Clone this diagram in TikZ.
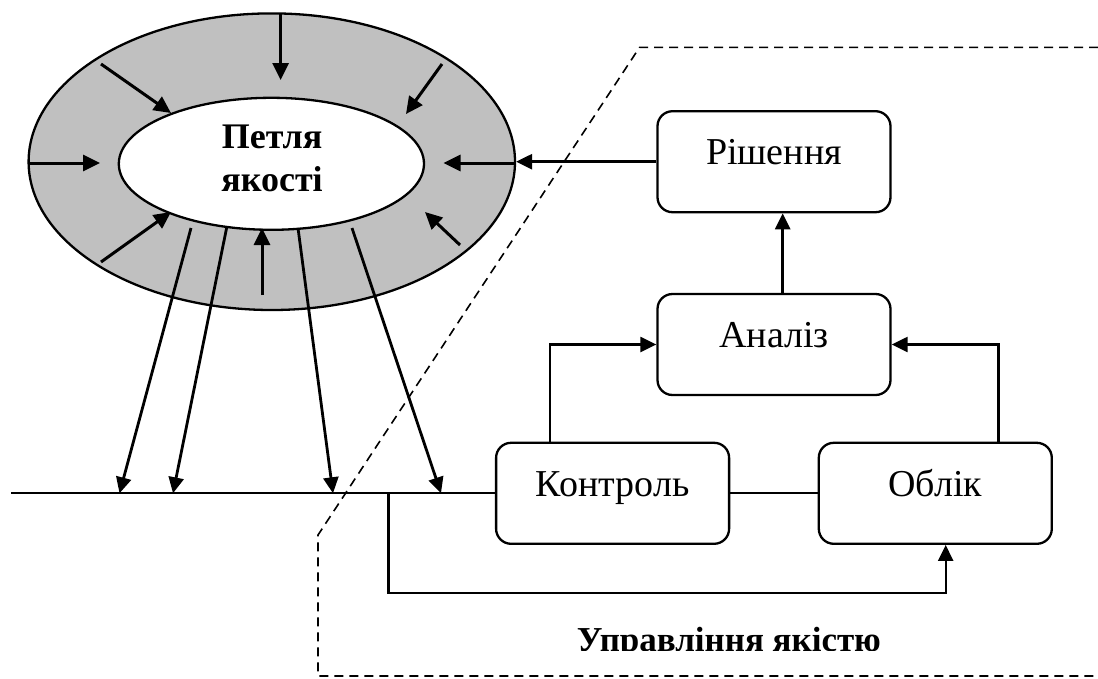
\documentclass[tikz,border=0pt]{standalone}
\usepackage{fontspec}
\setmainfont{Liberation Serif}
\usetikzlibrary{arrows.meta,shapes.geometric}
\definecolor{ringgrey}{HTML}{C0C0C0}
\begin{document}
\begin{tikzpicture}[x=1pt,y=-1pt,
  box/.style={draw,line width=2.3pt,rounded corners=15pt,minimum width=233pt,
    minimum height=101pt,inner sep=0pt,font=\fontsize{38pt}{44pt}\selectfont,
    text height=0.75em,text depth=0.17em},
  arr/.style={line width=2.8pt,-{Triangle[length=16pt,width=15pt]}},
  ringarr/.style={line width=3pt,-{Triangle[length=17pt,width=16pt]}},
  link/.style={line width=2.3pt},
  frame/.style={line width=1.6pt,dash pattern=on 9pt off 6pt},
  ]
\useasboundingbox (0,0) rectangle (1098,678);

% the quality loop: grey ring around a white core
\node[ellipse,draw,line width=2.3pt,fill=ringgrey,minimum width=486.4pt,
  minimum height=296.6pt,inner sep=0pt] (ring) at (271.8,161.7) {};
\node[ellipse,draw,line width=2.3pt,fill=white,minimum width=305.2pt,
  minimum height=132pt,inner sep=0pt] (loop) at (271.4,163.8) {};
\node[font=\bfseries\fontsize{36pt}{43pt}\selectfont,align=center,inner sep=0pt]
  (looptext) at (272,158.6) {Петля\\якості};

% influences pointing into the loop
\draw[ringarr] (280.6,13.5) -- (280.6,80);
\draw[ringarr] (101,64) -- (171,113);
\draw[ringarr] (442,64) -- (406,114);
\draw[ringarr] (28.6,163) -- (100,163);
\draw[ringarr] (515,163) -- (443.5,163);
\draw[ringarr] (101,262) -- (171,212);
\draw[ringarr] (460,245) -- (425,212);
\draw[ringarr] (262,295) -- (262,228);

% management blocks
\node[box] (rish)  at (774,161.7)  {Рішення};
\node[box] (anal)  at (774,344.5)  {Аналіз};
\node[box] (kontr) at (612.6,493.3) {Контроль};
\node[box] (oblik) at (935.3,493.3) {Облік};

% process line and the flows dropping onto it
\coordinate (bl) at (11,493.3);
\draw[link] (bl) -- (kontr.west);
\coordinate (d1s) at (191,228);   \coordinate (d1e) at (119.5,493.3);
\coordinate (d2s) at (226.6,228); \coordinate (d2e) at (173,493.3);
\coordinate (d3s) at (298,228);   \coordinate (d3e) at (333,493.3);
\coordinate (d4s) at (352,228);   \coordinate (d4e) at (441,493.3);
\draw[arr] (d1s) -- (d1e);
\draw[arr] (d2s) -- (d2e);
\draw[arr] (d3s) -- (d3e);
\draw[arr] (d4s) -- (d4e);

% connections between the blocks
\draw[arr] (rish.west) -- (ring.east);
\draw[arr] ([xshift=8.7pt]anal.north) -- ([xshift=8.7pt]rish.south);
\draw[arr,line width=2.3pt] ([xshift=-62.9pt]kontr.north) |- (anal.west);
\draw[arr,line width=2.3pt] ([xshift=63.3pt]oblik.north) |- (anal.east);
\draw[link] (kontr.east) -- (oblik.west);
\coordinate (fb) at (388.4,493.3);
\coordinate (fbc) at (388.4,592.7);
\draw[arr,line width=2.3pt] (fb) -- (fbc) -| ([xshift=10.4pt]oblik.south);

% dashed boundary of quality management
\draw[frame] (1098,47.3) -- (639.6,47.3) -- (318,535) -- (318,676) -- (1098,676);

\begin{scope}
  \clip (0,0) rectangle (1098,650.5);
  \node[font=\bfseries\fontsize{35pt}{40pt}\selectfont,anchor=base,inner sep=0pt]
    (title) at (729,651) {Управління якістю};
\end{scope}
\end{tikzpicture}
\end{document}
